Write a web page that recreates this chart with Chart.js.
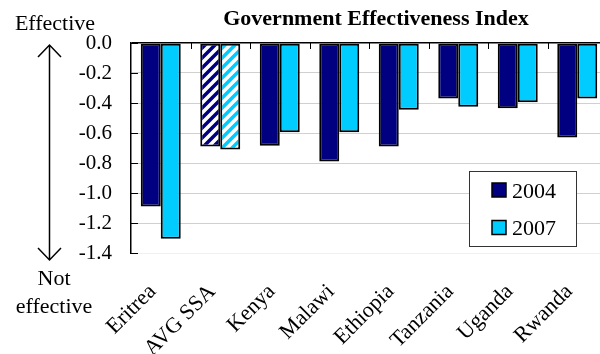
<!DOCTYPE html>
<html>
<head>
<meta charset="utf-8">
<script src="https://cdn.jsdelivr.net/npm/chart.js@4/dist/chart.umd.min.js"></script>
<style>
  html, body { margin: 0; padding: 0; background: #fff; overflow: hidden; width: 600px; height: 354px; }
  canvas { display: block; }
</style>
</head>
<body>
<canvas id="gov-chart" width="608" height="354"></canvas>
<script>
// Government effectiveness scores, 2004 vs 2007
const countries = ["Eritrea", "AVG SSA", "Kenya", "Malawi", "Ethiopia", "Tanzania", "Uganda", "Rwanda"];
const scores2004 = [-1.09, -0.69, -0.685, -0.79, -0.69, -0.37, -0.435, -0.63];
const scores2007 = [-1.305, -0.71, -0.595, -0.595, -0.445, -0.425, -0.395, -0.37];
const years = ["2004", "2007"];
const yMin = -1.4, yMax = 0, yStep = 0.2;

const NAVY = "#000080";
const CYAN = "#00ccff";
const SERIF = "'Liberation Serif', 'Times New Roman', serif";

// striped fill used for the regional average bars
function stripes(color) {
    const s = 10;
    const c = document.createElement("canvas");
    c.width = s; c.height = s;
    const g = c.getContext("2d");
    g.fillStyle = "#fff";
    g.fillRect(0, 0, s, s);
    g.strokeStyle = color;
    g.lineWidth = 3.5;
    g.beginPath();
    g.moveTo(-2, s + 2); g.lineTo(s + 2, -2);
    g.moveTo(-2, 2); g.lineTo(2, -2);
    g.moveTo(s - 2, s + 2); g.lineTo(s + 2, s - 2);
    g.stroke();
    return g.createPattern(c, "repeat");
}

function fills(color) {
    return countries.map(c => c === "AVG SSA" ? stripes(color) : color);
}

// title, side arrow, inner tick marks and legend box
const extras = {
    id: "extras",
    afterDatasetsDraw(chart) {
        const ctx = chart.ctx;
        const area = chart.chartArea;
        const x = chart.scales.x, y = chart.scales.y;
        ctx.save();

        // short ticks pointing into the plot
        ctx.strokeStyle = "#000";
        ctx.lineWidth = 1;
        ctx.beginPath();
        for (let i = 1; i < countries.length; i++) {
            const bx = Math.round((x.getPixelForValue(i - 1) + x.getPixelForValue(i)) / 2) + 0.5;
            ctx.moveTo(bx, area.top);
            ctx.lineTo(bx, area.top + 6);
        }
        for (let v = yMin; v <= yMax + 1e-9; v += yStep) {
            const py = Math.round(y.getPixelForValue(v)) + 0.5;
            ctx.moveTo(area.left, py);
            ctx.lineTo(area.left + 7, py);
        }
        ctx.stroke();

        // title
        ctx.fillStyle = "#000";
        ctx.font = "bold 22px " + SERIF;
        ctx.textAlign = "center";
        ctx.textBaseline = "alphabetic";
        ctx.fillText("Government Effectiveness Index", 376, 25);

        // direction labels
        ctx.font = "22px " + SERIF;
        ctx.fillText("Effective", 55, 30);
        ctx.fillText("Not", 54, 285);
        ctx.fillText("effective", 54, 313);

        // double-headed arrow
        ctx.lineWidth = 1.5;
        ctx.beginPath();
        ctx.moveTo(49.5, 45); ctx.lineTo(49.5, 260);
        ctx.moveTo(38, 57); ctx.lineTo(49.5, 45); ctx.lineTo(61, 57);
        ctx.moveTo(38, 248); ctx.lineTo(49.5, 260); ctx.lineTo(61, 248);
        ctx.stroke();

        // legend
        ctx.fillStyle = "#fff";
        ctx.fillRect(469.5, 171.5, 107, 75);
        ctx.strokeStyle = "#333";
        ctx.lineWidth = 1;
        ctx.strokeRect(469.5, 171.5, 107, 75);
        ctx.textAlign = "left";
        chart.data.datasets.forEach((ds, i) => {
            const top = 183 + i * 37.5;
            ctx.fillStyle = ds.legendColor;
            ctx.fillRect(492, top, 14, 14);
            ctx.strokeStyle = "#000";
            ctx.lineWidth = 1.5;
            ctx.strokeRect(492, top, 14, 14);
            ctx.fillStyle = "#000";
            ctx.fillText(ds.label, 512, top + 14.5);
        });
        ctx.restore();
    }
};

new Chart(document.getElementById("gov-chart"), {
    type: "bar",
    data: {
        labels: countries,
        datasets: [
            { label: years[0], data: scores2004, backgroundColor: fills(NAVY), legendColor: NAVY },
            { label: years[1], data: scores2007, backgroundColor: fills(CYAN), legendColor: CYAN }
        ]
    },
    options: {
        responsive: false,
        animation: false,
        layout: { padding: { top: 43, right: 1, left: 0, bottom: 0 } },
        datasets: {
            bar: {
                borderColor: "#000",
                borderWidth: 2,
                borderSkipped: false,
                categoryPercentage: 0.672,
                barPercentage: 1
            }
        },
        plugins: {
            legend: { display: false },
            title: { display: false },
            tooltip: { enabled: false }
        },
        scales: {
            x: {
                grid: { display: false, drawTicks: false },
                border: { display: false },
                ticks: {
                    color: "#000",
                    font: { family: SERIF, size: 22 },
                    minRotation: 45,
                    maxRotation: 45,
                    padding: 26,
                    labelOffset: -8
                },
                afterFit(scale) {
                    scale.height = 101;
                    scale.paddingLeft = 0;
                    scale.paddingRight = 0;
                }
            },
            y: {
                min: yMin,
                max: yMax,
                grid: {
                    drawTicks: false,
                    color: ctx => ctx.tick.value === 0 ? "#000" : (ctx.tick.value <= yMin + 1e-9 ? "#f0f0f0" : "#d0d0d0"),
                    lineWidth: ctx => ctx.tick.value === 0 ? 1.5 : 1
                },
                border: { display: true, color: "#000", width: 1.5 },
                ticks: {
                    stepSize: yStep,
                    color: "#000",
                    padding: 19,
                    font: { family: SERIF, size: 21 },
                    callback: v => v.toFixed(1)
                },
                afterFit(scale) { scale.width = 131; }
            }
        }
    },
    plugins: [extras]
});
</script>
</body>
</html>
